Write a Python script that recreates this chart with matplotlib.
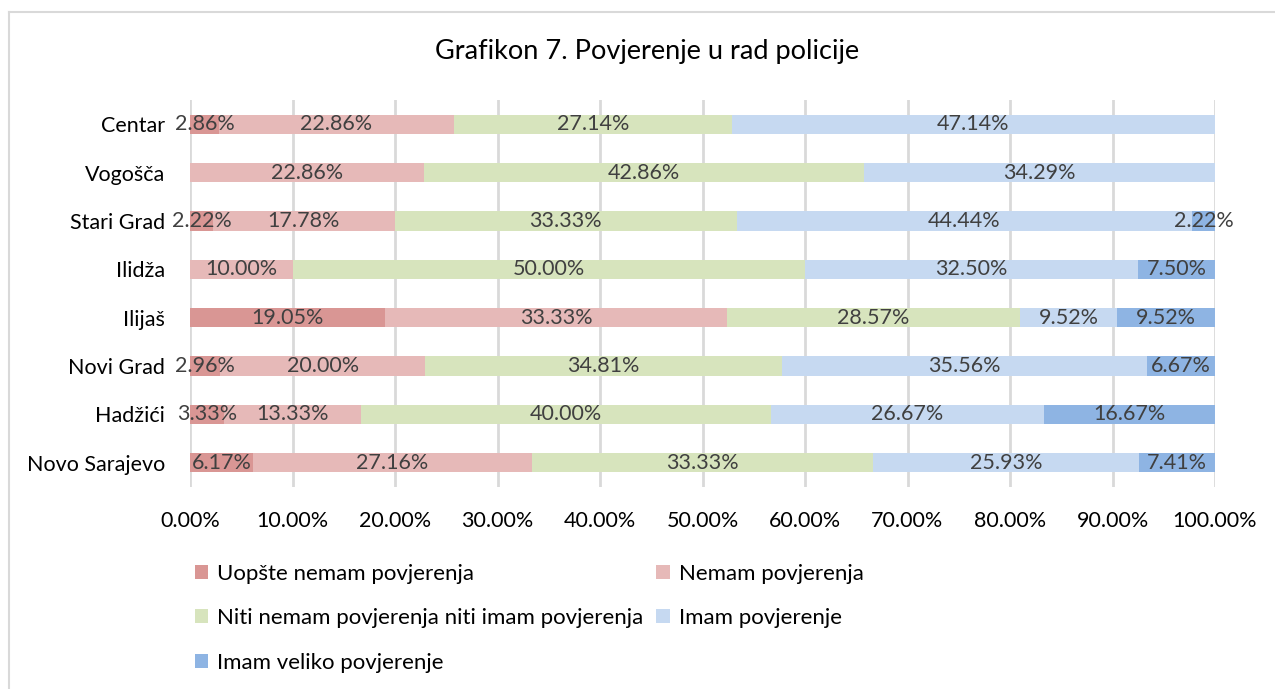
import matplotlib
matplotlib.use("Agg")
import matplotlib.pyplot as plt
from matplotlib.lines import Line2D
import numpy as np

plt.rcParams['font.family'] = ['Lato', 'DejaVu Sans']

categories = ["Centar", "Vogošča", "Stari Grad", "Ilidža", "Ilijaš",
              "Novi Grad", "Hadžići", "Novo Sarajevo"]
series_names = ["Uopšte nemam povjerenja", "Nemam povjerenja",
                "Niti nemam povjerenja niti imam povjerenja",
                "Imam povjerenje", "Imam veliko povjerenje"]
uopste = [2.86, 0.00, 2.22, 0.00, 19.05, 2.96, 3.33, 6.17]
nemam = [22.86, 22.86, 17.78, 10.00, 33.33, 20.00, 13.33, 27.16]
niti = [27.14, 42.86, 33.33, 50.00, 28.57, 34.81, 40.00, 33.33]
imam = [47.14, 34.29, 44.44, 32.50, 9.52, 35.56, 26.67, 25.93]
veliko = [0.00, 0.00, 2.22, 7.50, 9.52, 6.67, 16.67, 7.41]
colors = ["#D99694", "#E6B9B8", "#D7E4BD", "#C6D9F1", "#8EB4E3"]
xticks = [0, 10, 20, 30, 40, 50, 60, 70, 80, 90, 100]

W, H = 1275, 689
fig = plt.figure(figsize=(W / 100, H / 100), dpi=100)
ax = fig.add_axes([190 / W, 1 - 487 / H, (1215 - 190) / W, (487 - 100) / H])

data = [uopste, nemam, niti, imam, veliko]
y = np.arange(len(categories))
left = np.zeros(len(categories))
handles = []
for vals, c, name in zip(data, colors, series_names):
    v = np.array(vals)
    bars = ax.barh(y, v, left=left, height=0.4, color=c, label=name, zorder=2)
    handles.append(bars)
    for i, (val, l) in enumerate(zip(v, left)):
        if val > 0:
            ax.text(l + val / 2, y[i], f"{val:.2f}%", ha="center", va="center",
                    fontsize=15.5, color="#404040", zorder=3)
    left = left + v

ax.set_ylim(len(categories) - 0.5, -0.5)
ax.set_xlim(0, 100)
ax.set_yticks(y)
ax.set_yticklabels(categories, fontsize=15.5, color="#000000")
ax.set_xticks(xticks)
ax.set_xticklabels([f"{t:.2f}%" for t in xticks], fontsize=15.5, color="#000000")
ax.tick_params(axis="both", length=0)
ax.tick_params(axis="y", pad=18)
ax.tick_params(axis="x", pad=17)
for s in ax.spines.values():
    s.set_visible(False)
ax.grid(axis="x", color="#D9D9D9", linewidth=2, zorder=0)
ax.set_axisbelow(True)

fig.text(647 / W, 1 - 52 / H, "Grafikon 7. Povjerenje u rad policije",
         ha="center", va="center", fontsize=19.5, color="#000000")

order = [0, 2, 4, 1, 3]
leg = fig.legend([handles[i] for i in order], [series_names[i] for i in order],
                 ncol=2, loc="upper left", bbox_to_anchor=(188 / W, 1 - 557 / H),
                 frameon=False, fontsize=16, handlelength=0.6, handleheight=0.6,
                 handletextpad=0.4, labelspacing=1.1, columnspacing=0.6,
                 borderaxespad=0, borderpad=0.3)

# outer chart border
fig.add_artist(Line2D([9 / W, 9 / W], [0, 1 - 12 / H], transform=fig.transFigure,
                      color="#D9D9D9", linewidth=1.5))
fig.add_artist(Line2D([9 / W, 1], [1 - 12 / H, 1 - 12 / H], transform=fig.transFigure,
                      color="#D9D9D9", linewidth=1.5))

fig.savefig("out.png", dpi=100)
